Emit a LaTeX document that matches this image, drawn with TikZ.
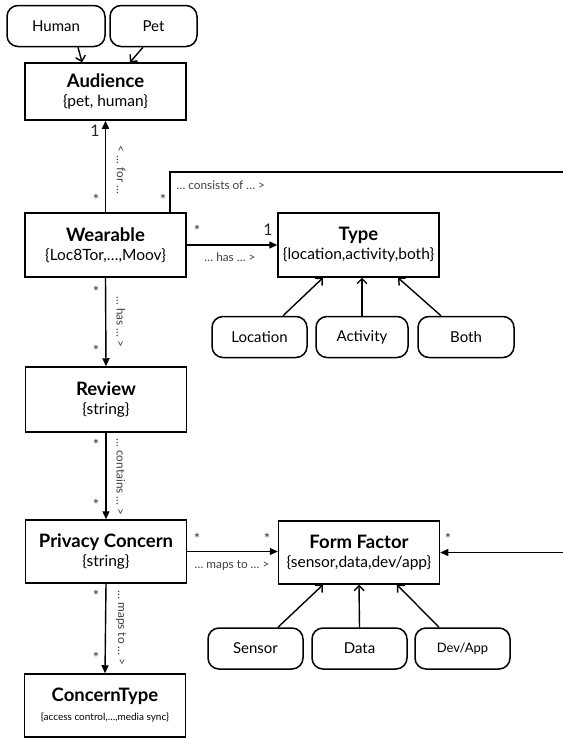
\documentclass[tikz,border=0pt]{standalone}
\usepackage{fontspec}
\setmainfont{Lato}
\usetikzlibrary{arrows.meta,shapes.misc}
\begin{document}
\begin{tikzpicture}[x=1pt,y=-1pt,
  cls/.style={draw,line width=1.5pt,minimum width=161pt,inner sep=2pt,align=center,font=\fontsize{15.5}{19}\selectfont},
  val/.style={draw,line width=1.5pt,rounded corners=11pt,minimum height=41pt,font=\fontsize{15}{17}\selectfont},
  conn/.style={line width=1.4pt,-{Triangle[length=8pt,width=7pt]}},
  gen/.style={line width=1.4pt,-{Straight Barb[length=5pt,width=10pt,line width=1.4pt]}},
  lab/.style={font=\fontsize{11.8}{13}\selectfont,text=black!75},
  mult/.style={font=\fontsize{15}{16}\selectfont,text=black!80,inner sep=0pt},
  one/.style={font=\fontsize{16}{17}\selectfont,text=black!85,inner sep=0pt}]
\useasboundingbox (0,0) rectangle (563,740);
% value nodes
\node[val,minimum width=98pt] (human) at (56,26) {Human};
\node[val,minimum width=87pt] (pet) at (153.5,26) {Pet};
% class nodes
\node[cls,minimum height=57pt] (audience) at (105.5,91.5) {{\fontsize{18.5}{22}\selectfont\bfseries Audience}\\\{pet, human\}};
\node[cls,minimum height=64pt] (wearable) at (105.5,245) {{\fontsize{18.5}{22}\selectfont\bfseries Wearable}\\\{Loc8Tor,\ldots,Moov\}};
\node[cls,minimum height=64pt] (type) at (358.5,245) {{\fontsize{18.5}{22}\selectfont\bfseries Type}\\\{location,activity,both\}};
\node[cls,minimum height=65pt] (review) at (106,399.5) {{\fontsize{18.5}{22}\selectfont\bfseries Review}\\\{string\}};
\node[cls,minimum height=63pt] (privacy) at (106,551.5) {{\fontsize{18.5}{22}\selectfont\bfseries Privacy Concern}\\\{string\}};
\node[cls,minimum height=63pt] (formfactor) at (359,552.5) {{\fontsize{18.5}{22}\selectfont\bfseries Form Factor}\\\{sensor,data,dev/app\}};
\node[cls,minimum height=63pt] (concerntype) at (105,705.5) {{\fontsize{18.5}{22}\selectfont\bfseries ConcernType}\\{\fontsize{10}{12}\selectfont\{access control,\ldots,media sync\}}};
% sub values
\node[val,minimum width=95pt] (location) at (259.5,337) {Location};
\node[val,minimum width=92pt] (activity) at (362,337) {Activity};
\node[val,minimum width=96pt] (both) at (466,337) {Both};
\node[val,minimum width=95pt] (sensor) at (255.5,648.5) {Sensor};
\node[val,minimum width=95pt] (data) at (359.5,648.5) {Data};
\node[val,minimum width=95pt,font=\fontsize{13}{15}\selectfont] (devapp) at (462.5,648.5) {Dev/App};
% generalisation arrows
\draw[gen] ([xshift=22pt]human.south) -- ([xshift=-23.5pt]audience.north);
\draw[gen] ([xshift=-10.5pt]pet.south) -- ([xshift=24.5pt]audience.north);
\draw[gen] ([xshift=23.5pt]location.north) -- ([xshift=-35.5pt]type.south);
\draw[gen] (activity.north) -- ([xshift=3.5pt]type.south);
\draw[gen] ([xshift=-25pt]both.north) -- ([xshift=39.5pt]type.south);
\draw[gen] ([xshift=22.5pt]sensor.north) -- ([xshift=-36pt]formfactor.south);
\draw[gen] (data.north) -- ([xshift=0pt]formfactor.south);
\draw[gen] ([xshift=-23.5pt]devapp.north) -- ([xshift=38pt]formfactor.south);
% associations
\draw[conn] (wearable.north) -- (audience.south);
\draw[conn] (wearable.east) -- (type.west);
\draw[conn] (wearable.south) -- (review.north);
\draw[conn] (review.south) -- (privacy.north);
\draw[conn] (privacy.south) -- (concerntype.north);
\draw[conn] (privacy.east) -- (privacy.east -| formfactor.west);
\coordinate (consend) at (566,172);
\coordinate (ffin) at (566,552.5);
\draw[line width=1.4pt] ([xshift=64.5pt]wearable.north) |- (consend);
\draw[conn] (ffin) -- (formfactor.east);
% multiplicities
\node[one] (m1) at (95,131) {1};
\node[mult] (m2) at (96,200) {*};
\node[mult] (m3) at (163,200) {*};
\node[mult] (m4) at (197,231) {*};
\node[one] (m5) at (268,230) {1};
\node[mult] (m6) at (96,292) {*};
\node[mult] (m7) at (96,351) {*};
\node[mult] (m8) at (96,445) {*};
\node[mult] (m9) at (96,505) {*};
\node[mult] (m10) at (96,596) {*};
\node[mult] (m11) at (96,658) {*};
\node[mult] (m12) at (197,539) {*};
\node[mult] (m13) at (267,539) {*};
\node[mult] (m14) at (448,539) {*};
% role labels
\node[lab,rotate=-90] (l1) at (121,170) {< \ldots\ for \ldots};
\node[lab,anchor=west] (l2) at (173,185) {\ldots\ consists of \ldots\ >};
\node[lab] (l3) at (230,257) {\ldots\ has \ldots\ >};
\node[lab,rotate=-90] (l4) at (121,322) {\ldots\ has \ldots\ >};
\node[lab,rotate=-90] (l5) at (121,477) {\ldots\ contains \ldots\ >};
\node[lab,rotate=-90] (l6) at (121,628) {\ldots\ maps to \ldots\ >};
\node[lab] (l7) at (232,566) {\ldots\ maps to \ldots\ >};
\end{tikzpicture}
\end{document}
